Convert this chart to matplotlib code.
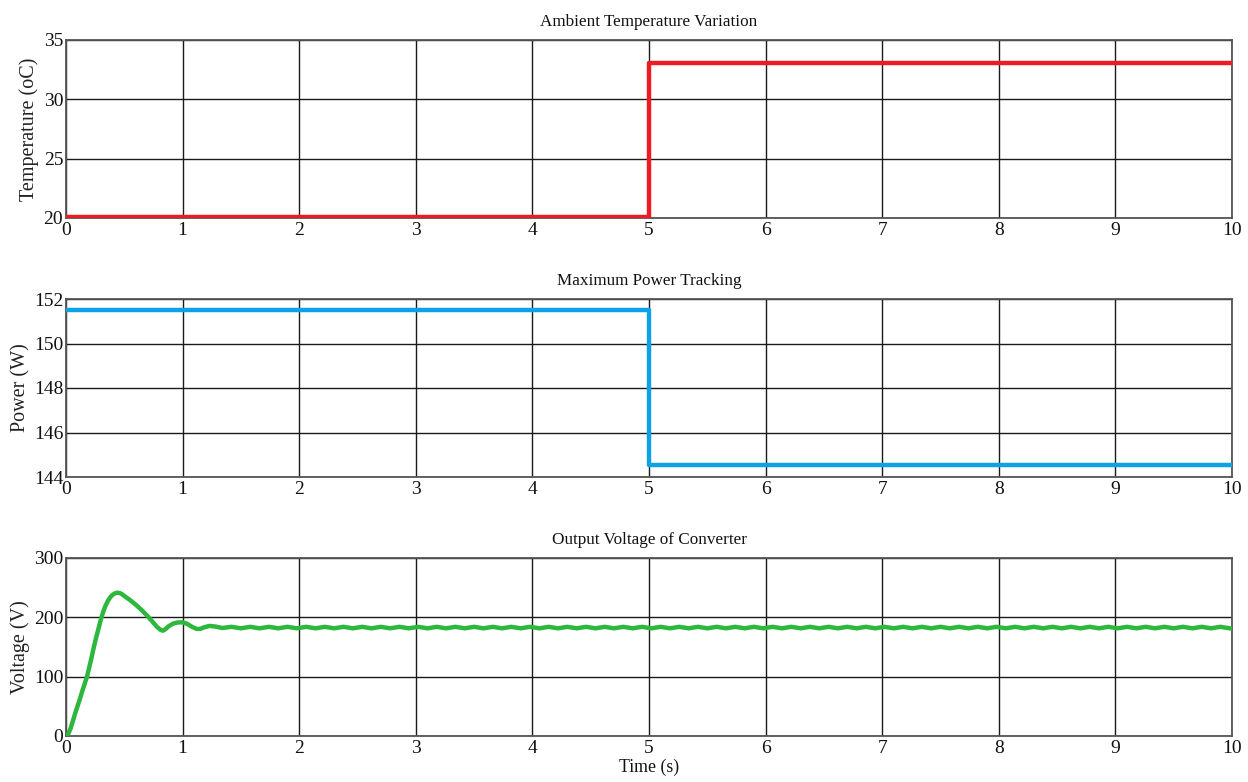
import numpy as np
import matplotlib
matplotlib.use("Agg")
import matplotlib.pyplot as plt

plt.rcParams['font.family'] = ['Liberation Serif', 'DejaVu Serif']

# ---- data ----
temp_t = [0, 5, 5, 10]
temp_v = [20.1, 20.1, 33.05, 33.05]

power_t = [0, 5, 5, 10]
power_v = [151.5, 151.5, 144.55, 144.55]

volt_t_trans = [0.0, 0.02, 0.04, 0.06, 0.08, 0.10, 0.12, 0.14, 0.16, 0.18, 0.20, 0.22,
                0.24, 0.26, 0.28, 0.30, 0.32, 0.34, 0.36, 0.38, 0.40, 0.42, 0.44, 0.46,
                0.48, 0.50, 0.55, 0.60, 0.65, 0.70, 0.74, 0.78, 0.81, 0.83, 0.85, 0.88,
                0.92, 0.96, 1.00, 1.04, 1.08, 1.12, 1.15, 1.19, 1.23, 1.28, 1.34]
volt_v_trans = [0, 4, 13, 26, 39, 51, 63, 76, 88, 100, 116, 133,
                151, 167, 182, 197, 210, 220, 228, 234, 238, 240.5, 241.5, 241,
                239, 236, 229, 221, 212, 202, 193, 184, 179, 177.5, 179.5, 185,
                189.5, 191.5, 191.5, 189, 184, 180.5, 180.5, 183.5, 185.5, 184.5, 182]

# steady-state ripple, sampled every 0.08 s from 1.42 s
volt_v_ripple = [184.0, 181.5, 184.0, 181.5, 184.0, 181.5, 184.0, 181.5, 184.0, 181.5,
                 184.0, 181.5, 184.0, 181.5, 184.0, 181.5, 184.0, 181.5, 184.0, 181.5,
                 184.0, 181.5, 184.0, 181.5, 184.0, 181.5, 184.0, 181.5, 184.0, 181.5,
                 184.0, 181.5, 184.0, 181.5, 184.0, 181.5, 184.0, 181.5, 184.0, 181.5,
                 184.0, 181.5, 184.0, 181.5, 184.0, 181.5, 184.0, 181.5, 184.0, 181.5,
                 184.0, 181.5, 184.0, 181.5, 184.0, 181.5, 184.0, 181.5, 184.0, 181.5,
                 184.0, 181.5, 184.0, 181.5, 184.0, 181.5, 184.0, 181.5, 184.0, 181.5,
                 184.0, 181.5, 184.0, 181.5, 184.0, 181.5, 184.0, 181.5, 184.0, 181.5,
                 184.0, 181.5, 184.0, 181.5, 184.0, 181.5, 184.0, 181.5, 184.0, 181.5,
                 184.0, 181.5, 184.0, 181.5, 184.0, 181.5, 184.0, 181.5, 184.0, 181.5,
                 184.0, 181.5, 184.0, 181.5, 184.0, 181.5, 184.0, 181.5]
volt_t_ripple = np.round(1.42 + 0.08 * np.arange(len(volt_v_ripple)), 4)

x_ticks = [0, 1, 2, 3, 4, 5, 6, 7, 8, 9, 10]
temp_ticks = [20, 25, 30, 35]
power_ticks = [144, 146, 148, 150, 152]
volt_ticks = [0, 100, 200, 300]

# ---- figure ----
W, H = 1248, 782
fig = plt.figure(figsize=(W / 100, H / 100), dpi=100)

def axbox(top_px, bot_px):
    return [66 / W, 1 - bot_px / H, 1166 / W, (bot_px - top_px) / H]

panels = [
    (axbox(40, 218), temp_t, temp_v, '#ED1C24', 'Ambient Temperature Variation',
     'Temperature (oC)', temp_ticks, (20, 35), (39 - 66) / 1166),
    (axbox(299, 477), power_t, power_v, '#0CA2E6', 'Maximum Power Tracking',
     'Power (W)', power_ticks, (144, 152), (30 - 66) / 1166),
    (axbox(558, 736), None, None, '#2DB83D', 'Output Voltage of Converter',
     'Voltage (V)', volt_ticks, (0, 300), (30 - 66) / 1166),
]

axes = []
for box, xt, yv, col, title, ylabel, yt, ylim, lx in panels:
    ax = fig.add_axes(box)
    if xt is None:
        xt = list(volt_t_trans) + list(volt_t_ripple)
        yv = list(volt_v_trans) + list(volt_v_ripple)
    ax.plot(xt, yv, color=col, lw=3.2, solid_joinstyle='round', clip_on=True, zorder=3)
    ax.set_xlim(0, 10)
    ax.set_ylim(*ylim)
    ax.set_xticks(x_ticks)
    ax.set_yticks(yt)
    ax.grid(True, color='#1a1a1a', lw=1.0)
    ax.set_axisbelow(True)
    for s in ax.spines.values():
        s.set_color('#555555')
        s.set_linewidth(1.3)
    ax.tick_params(axis='both', length=0, labelsize=14, colors='#111111', pad=3)
    ax.tick_params(axis='y', pad=2)
    ax.set_title(title, fontsize=12.3, pad=10, color='#111111')
    ax.set_ylabel(ylabel, fontsize=14.5, color='#222222')
    ax.yaxis.set_label_coords(lx, 0.5)
    axes.append(ax)

axes[-1].set_xlabel('Time (s)', fontsize=12.8, color='#111111', labelpad=1)

fig.savefig('out.png', dpi=100)
